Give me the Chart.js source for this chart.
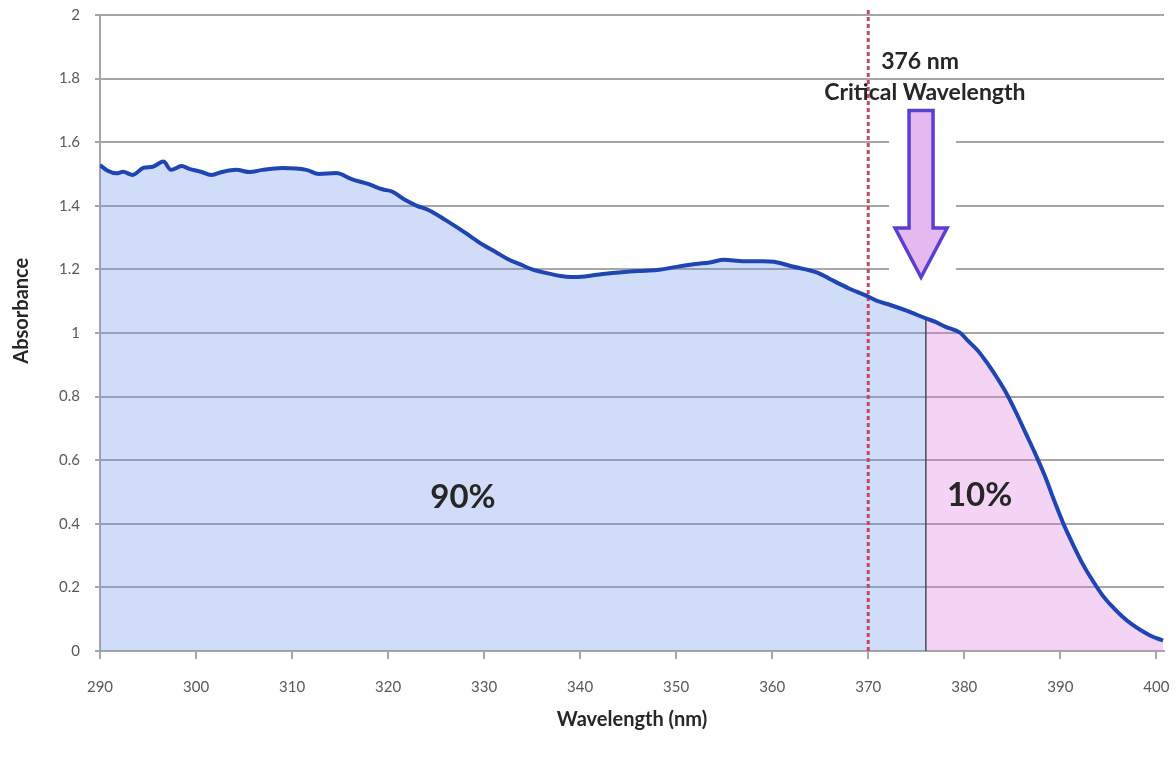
<!DOCTYPE html>
<html>
<head>
<meta charset="utf-8">
<script src="https://cdn.jsdelivr.net/npm/chart.js@4.4.0/dist/chart.umd.min.js"></script>
<style>
  html, body { margin: 0; padding: 0; background: #fff; }
  #wrap { width: 1176px; height: 757px; }
</style>
</head>
<body>
<div id="wrap"><canvas id="grafico"></canvas></div>
<script>
// absorbance spectrum
const wavelengths = [
  290, 290.8, 291.7, 292.4, 293.4, 294.5, 295.5, 296.6, 297.4, 298.5, 299.3,
  300.5, 301.6, 302.8, 304.2, 305.6, 306.9, 309, 311.5, 312.8, 314.6, 316.2,
  318, 319.4, 320.4, 321.8, 323, 324.2, 326, 328.1, 329, 330, 331.2, 332.5,
  333.9, 335, 336.4, 338, 339, 340.5, 342, 344, 346, 348, 350, 352, 353.5,
  355, 357, 359, 360.2, 362, 364.7, 366, 368, 369.6, 371, 372.3, 374, 376,
  377, 378, 379.6, 380.4, 381.4, 382.4, 383.4, 384.4, 385.4, 386.4, 387.4,
  388.4, 389.4, 390.4, 391.4, 392.4, 393.4, 394.4, 395.4, 396.4, 397.4,
  398.4, 399.4, 400.7
];
const absorbance = [
  1.528, 1.51, 1.502, 1.507, 1.497, 1.519, 1.523, 1.539, 1.513, 1.525, 1.516,
  1.507, 1.497, 1.507, 1.513, 1.506, 1.513, 1.519, 1.513, 1.5, 1.503, 1.484,
  1.468, 1.452, 1.445, 1.418, 1.4, 1.387, 1.355, 1.314, 1.295, 1.275, 1.255, 1.232,
  1.214, 1.2, 1.189, 1.179, 1.176, 1.178, 1.184, 1.19, 1.195, 1.198, 1.208, 1.217, 1.222,
  1.23, 1.226, 1.226, 1.224, 1.21, 1.19, 1.17, 1.14, 1.12, 1.1, 1.088, 1.07, 1.046,
  1.035, 1.02, 1.0, 0.975, 0.945, 0.905, 0.86, 0.81, 0.75, 0.685, 0.62,
  0.55, 0.47, 0.395, 0.33, 0.27, 0.22, 0.175, 0.14, 0.11, 0.085,
  0.065, 0.048, 0.033
];
const wavelengthTicks = [290, 300, 310, 320, 330, 340, 350, 360, 370, 380, 390, 400];
const absorbanceTicks = [0, 0.2, 0.4, 0.6, 0.8, 1, 1.2, 1.4, 1.6, 1.8, 2];
const criticalWavelength = 376;
const markerWavelength = 370;
const areaLabels = ['90%', '10%'];
const criticalLabel = ['376 nm', 'Critical Wavelength'];
const yTitle = 'Absorbance';

function pontos(xs, ys) {
    return xs.map((x, i) => ({ x: x, y: ys[i] }));
}

const curva = pontos(wavelengths, absorbance);
const idxCritico = wavelengths.indexOf(criticalWavelength);
const area90 = curva.slice(0, idxCritico + 1);
const area10 = curva.slice(idxCritico);

const anotacoes = {
    id: 'anotacoes',
    afterDraw(chart) {
        const { ctx, scales: { x, y } } = chart;
        ctx.save();

        // arrow with a white box behind it (breaks the gridlines)
        const cx = x.getPixelForValue(375.5);
        const topo = y.getPixelForValue(1.70);
        const base = y.getPixelForValue(1.33);
        const ponta = y.getPixelForValue(1.175);
        ctx.fillStyle = '#fff';
        ctx.fillRect(cx - 32, topo - 8, 67, ponta - topo + 16);
        ctx.beginPath();
        ctx.moveTo(cx - 12, topo);
        ctx.lineTo(cx + 12, topo);
        ctx.lineTo(cx + 12, base);
        ctx.lineTo(cx + 26, base);
        ctx.lineTo(cx, ponta);
        ctx.lineTo(cx - 26, base);
        ctx.lineTo(cx - 12, base);
        ctx.closePath();
        ctx.fillStyle = '#e6b8f0';
        ctx.fill();
        ctx.lineWidth = 3.5;
        ctx.strokeStyle = '#5a40d0';
        ctx.stroke();

        ctx.fillStyle = '#262626';
        ctx.textAlign = 'center';
        ctx.textBaseline = 'middle';
        ctx.font = 'bold 23px Lato';
        ctx.fillText(criticalLabel[0], x.getPixelForValue(375.4), y.getPixelForValue(1.852));
        ctx.fillText(criticalLabel[1], x.getPixelForValue(375.9), y.getPixelForValue(1.755));

        ctx.font = 'bold 33px Lato';
        ctx.fillText(areaLabels[0], x.getPixelForValue(327.8), y.getPixelForValue(0.484));
        ctx.fillText(areaLabels[1], x.getPixelForValue(381.6), y.getPixelForValue(0.49));

        // y axis title, a little above the middle like the original
        ctx.font = 'bold 20px Lato';
        ctx.translate(22, y.getPixelForValue(1.07));
        ctx.rotate(-Math.PI / 2);
        ctx.fillText(yTitle, 0, 0);
        ctx.restore();
    }
};

Chart.defaults.font.family = 'Lato';

new Chart(document.getElementById('grafico').getContext('2d'), {
    type: 'line',
    data: {
        datasets: [
            {
                data: curva,
                borderColor: '#1f45b5',
                borderWidth: 4,
                pointRadius: 0,
                cubicInterpolationMode: 'monotone',
                fill: false,
                order: 0
            },
            {
                data: [{ x: markerWavelength, y: 0 }, { x: markerWavelength, y: 2.02 }],
                borderColor: '#c44862',
                borderWidth: 3,
                borderDash: [4, 3],
                pointRadius: 0,
                fill: false,
                clip: false,
                order: 1
            },
            {
                data: [{ x: criticalWavelength, y: 0 }, { x: criticalWavelength, y: absorbance[idxCritico] }],
                borderColor: '#4a4a5a',
                borderWidth: 1.5,
                pointRadius: 0,
                fill: false,
                order: 2
            },
            {
                data: area90,
                borderWidth: 0,
                pointRadius: 0,
                cubicInterpolationMode: 'monotone',
                backgroundColor: 'rgba(98,138,232,0.3)',
                fill: 'origin',
                order: 3
            },
            {
                data: area10,
                borderWidth: 0,
                pointRadius: 0,
                cubicInterpolationMode: 'monotone',
                backgroundColor: 'rgba(218,112,218,0.3)',
                fill: 'origin',
                order: 3
            }
        ]
    },
    options: {
        responsive: true,
        maintainAspectRatio: false,
        animation: false,
        layout: { padding: { top: 15, right: 12, left: 0, bottom: 0 } },
        plugins: { legend: { display: false }, tooltip: { enabled: false } },
        scales: {
            x: {
                type: 'linear',
                min: 290,
                max: 400.8,
                afterBuildTicks: (s) => { s.ticks = wavelengthTicks.map(v => ({ value: v })); },
                afterFit: (s) => { s.height = 106; s.paddingLeft = 0; s.paddingRight = 0; },
                ticks: {
                    color: '#595959',
                    font: { size: 15 },
                    padding: 19,
                    maxRotation: 0,
                    callback: (v) => String(v)
                },
                grid: { drawOnChartArea: false, drawTicks: true, tickLength: 8, color: '#a6a6a6', lineWidth: 2 },
                border: { display: true, color: '#a6a6a6', width: 2 },
                title: {
                    display: true,
                    text: 'Wavelength (nm)',
                    color: '#262626',
                    font: { size: 20, weight: 'bold' },
                    padding: { top: 0, bottom: 25 }
                }
            },
            y: {
                min: 0,
                max: 2,
                afterBuildTicks: (s) => { s.ticks = absorbanceTicks.map(v => ({ value: v })); },
                afterFit: (s) => { s.width = 100; s.paddingTop = 0; s.paddingBottom = 0; },
                ticks: {
                    color: '#595959',
                    font: { size: 15 },
                    padding: 15,
                    callback: (v) => String(Number(v.toFixed(1)))
                },
                grid: { color: '#a6a6a6', lineWidth: 2, drawTicks: true, tickLength: 5 },
                border: { display: true, color: '#a6a6a6', width: 2 }
            }
        }
    },
    plugins: [anotacoes]
});
</script>
</body>
</html>
